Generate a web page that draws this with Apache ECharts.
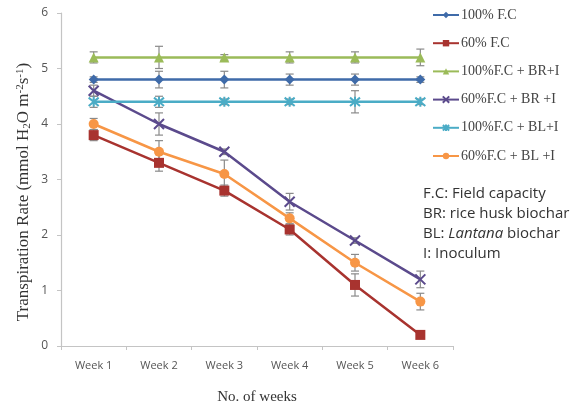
<!DOCTYPE html>
<html>
<head>
<meta charset="utf-8">
<script src="https://cdn.jsdelivr.net/npm/echarts@6/dist/echarts.min.js"></script>
<style>
  html, body { margin: 0; padding: 0; background: #fff; }
  #chart { width: 578px; height: 411px; }
</style>
</head>
<body>
<div id="chart"></div>
<script>
// Weekly transpiration rate by treatment
const weeks = ['Week 1', 'Week 2', 'Week 3', 'Week 4', 'Week 5', 'Week 6'];
const yTicks = [0, 1, 2, 3, 4, 5, 6];

const seriesNames = ['100% F.C', '60% F.C', '100%F.C + BR+I', '60%F.C + BR +I', '100%F.C + BL+I', '60%F.C + BL +I'];

const fc100 = [4.8, 4.8, 4.8, 4.8, 4.8, 4.8];
const fc60 = [3.8, 3.3, 2.8, 2.1, 1.1, 0.2];
const fc100BR = [5.2, 5.2, 5.2, 5.2, 5.2, 5.2];
const fc60BR = [4.6, 4.0, 3.5, 2.6, 1.9, 1.2];
const fc100BL = [4.4, 4.4, 4.4, 4.4, 4.4, 4.4];
const fc60BL = [4.0, 3.5, 3.1, 2.3, 1.5, 0.8];

// standard errors (±)
const fc100Err = [0.05, 0.15, 0.15, 0.1, 0.1, 0.05];
const fc60Err = [0.1, 0.15, 0.1, 0.1, 0.2, 0.05];
const fc100BRErr = [0.1, 0.2, 0.05, 0.1, 0.1, 0.15];
const fc60BRErr = [0.1, 0.2, 0.05, 0.15, 0.05, 0.15];
const fc100BLErr = [0.1, 0.1, 0.05, 0.05, 0.2, 0.05];
const fc60BLErr = [0.1, 0.2, 0.25, 0.1, 0.15, 0.15];

const colors = ['#3f6ba9', '#a8332f', '#9bbb59', '#5b4a8c', '#4bacc6', '#f79646'];
const xMark = 'path://M0,0 L10,10 M10,0 L0,10';
const starMark = 'path://M0,0 L10,10 M10,0 L0,10 M5,-1 L5,11';
const symbols = ['diamond', 'rect', 'triangle', xMark, starMark, 'circle'];
const symbolSizes = [10, 10, 10, 10, 10, 10];

const values = [fc100, fc60, fc100BR, fc60BR, fc100BL, fc60BL];
const errors = [fc100Err, fc60Err, fc100BRErr, fc60BRErr, fc100BLErr, fc60BLErr];

const series = [];
values.forEach((vals, i) => {
  // error bars drawn beneath each line
  series.push({
    type: 'custom',
    name: seriesNames[i] + ' err',
    silent: true,
    z: 1,
    data: vals.map((v, k) => [k, v - errors[i][k], v + errors[i][k]]),
    renderItem: function (params, api) {
      const lo = api.coord([api.value(0), api.value(1)]);
      const hi = api.coord([api.value(0), api.value(2)]);
      const cap = 4;
      const style = { stroke: '#8a8a8a', lineWidth: 1.2 };
      return {
        type: 'group',
        children: [
          { type: 'line', shape: { x1: lo[0], y1: lo[1], x2: hi[0], y2: hi[1] }, style: style },
          { type: 'line', shape: { x1: lo[0] - cap, y1: lo[1], x2: lo[0] + cap, y2: lo[1] }, style: style },
          { type: 'line', shape: { x1: hi[0] - cap, y1: hi[1], x2: hi[0] + cap, y2: hi[1] }, style: style }
        ]
      };
    }
  });
});
values.forEach((vals, i) => {
  const isPath = i === 3 || i === 4;
  series.push({
    type: 'line',
    name: seriesNames[i],
    data: vals,
    z: 3,
    symbol: symbols[i],
    symbolSize: symbolSizes[i],
    showAllSymbol: true,
    lineStyle: { color: colors[i], width: 2.5 },
    itemStyle: isPath
      ? { color: colors[i], borderColor: colors[i], borderWidth: 2 }
      : { color: colors[i], borderWidth: 0 },
    emphasis: { disabled: true }
  });
});

const chart = echarts.init(document.getElementById('chart'), null, { renderer: 'canvas' });
chart.setOption({
  animation: false,
  backgroundColor: '#ffffff',
  grid: { left: 61, right: 125, top: 13, bottom: 65 },
  legend: {
    data: seriesNames,
    orient: 'vertical',
    left: 432,
    top: 8,
    padding: 0,
    itemGap: 14.2,
    itemWidth: 26,
    itemHeight: 8,
    textStyle: { fontFamily: 'Liberation Serif', fontSize: 14, lineHeight: 14, color: '#444', padding: [0, 0, 0, -3] }
  },
  xAxis: {
    type: 'category',
    data: weeks,
    boundaryGap: true,
    axisLine: { lineStyle: { color: '#c4c4c4', width: 1.2 } },
    axisTick: { show: true, length: 4, lineStyle: { color: '#c4c4c4' } },
    axisLabel: { fontFamily: 'Open Sans', fontSize: 11, color: '#555', margin: 14 },
    name: 'No. of weeks',
    nameLocation: 'middle',
    nameGap: 44,
    nameTextStyle: { fontFamily: 'Liberation Serif', fontSize: 15, color: '#333' }
  },
  yAxis: {
    type: 'value',
    min: yTicks[0],
    max: yTicks[yTicks.length - 1],
    interval: 1,
    axisLine: { show: true, lineStyle: { color: '#c4c4c4', width: 1.2 } },
    axisTick: { show: true, length: 4, lineStyle: { color: '#c4c4c4' } },
    splitLine: { show: false },
    axisLabel: { fontFamily: 'Open Sans', fontSize: 12, color: '#555', margin: 13 }
  },
  graphic: [
    {
      // y-axis title, rotated
      type: 'text',
      x: 24,
      y: 192,
      rotation: Math.PI / 2,
      style: {
        text: 'Transpiration Rate (mmol H{sub|2}O m{sup|-2}s{sup|-1})',
        fontFamily: 'Liberation Serif',
        fontSize: 17,
        fill: '#333',
        align: 'center',
        verticalAlign: 'middle',
        rich: {
          sub: { fontFamily: 'Liberation Serif', fontSize: 11, fill: '#333', verticalAlign: 'bottom', padding: [7, 0, 0, 0] },
          sup: { fontFamily: 'Liberation Serif', fontSize: 11, fill: '#333', verticalAlign: 'top', padding: [0, 0, 7, 0] }
        }
      }
    },
    {
      type: 'text',
      left: 423,
      top: 184,
      style: {
        text: 'F.C: Field capacity\nBR: rice husk biochar\nBL: {it|Lantana} biochar\nI: Inoculum',
        fontFamily: 'Open Sans',
        fontSize: 15,
        lineHeight: 20,
        fill: '#333',
        rich: {
          it: { fontFamily: 'Open Sans', fontSize: 15, fontStyle: 'italic', fill: '#333', lineHeight: 20 }
        }
      }
    }
  ],
  series: series
});
</script>
</body>
</html>
